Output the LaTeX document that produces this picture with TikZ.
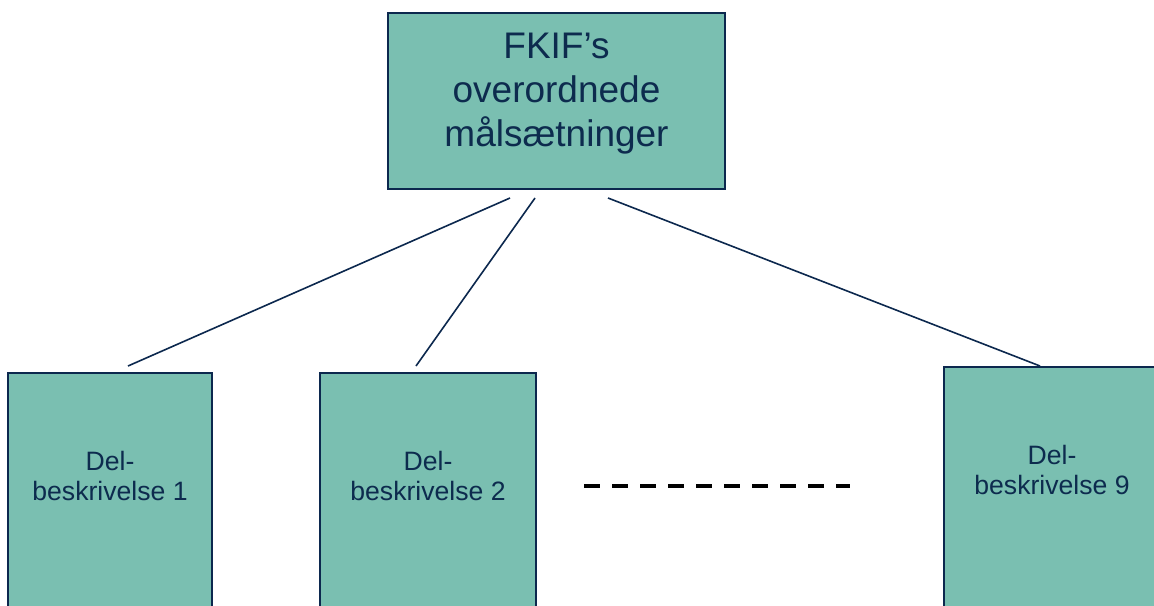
\documentclass[tikz,border=0pt]{standalone}
\usepackage{fontspec}
\setmainfont{Liberation Sans}
\definecolor{boxfill}{RGB}{122,191,177}
\definecolor{boxline}{RGB}{12,40,78}
\definecolor{inktext}{RGB}{13,43,78}
\begin{document}
\begin{tikzpicture}[x=0.5pt,y=-0.5pt,
    goalbox/.style={draw=boxline,line width=1pt,fill=boxfill,minimum width=168.5pt,
      minimum height=88pt,inner sep=0pt},
    goaltext/.style={align=center,text=inktext,font=\fontsize{18.5}{22}\selectfont},
    partbox/.style={draw=boxline,line width=1pt,fill=boxfill,minimum width=108pt,
      minimum height=130pt,anchor=north,inner sep=0pt},
    parttext/.style={align=center,text=inktext,font=\fontsize{13.3}{14.8}\selectfont},
    link/.style={draw=boxline,line width=0.8pt}]
    % Picture frame
    \clip (0,0) rectangle (1154,605);
    \fill[white] (0,0) rectangle (1154,605);

    % Overall goals
    \node[goalbox] (goal) at (556.5,101) {};
    \node[goaltext] (goaltxt) at (556.5,94) {FKIF’s\\overordnede\\målsætninger};

    % Sub-descriptions
    \node[partbox,minimum width=102pt] (part1) at (110,372) {};
    \node[parttext] (text1) at (110,476) {Del-\\beskrivelse 1};
    \node[partbox] (part2) at (428,372) {};
    \node[parttext] (text2) at (428,476) {Del-\\beskrivelse 2};
    \node[partbox] (part9) at (1052,366) {};
    \node[parttext] (text9) at (1052,470) {Del-\\beskrivelse 9};

    % Connector ends
    \coordinate (g1) at (510,198);
    \coordinate (g2) at (535,198);
    \coordinate (g9) at (608,198);
    \coordinate (p1) at (128,366);
    \coordinate (p2) at (416,366);
    \coordinate (p9) at (1040,366);
    \draw[link] (g1) -- (p1);
    \draw[link] (g2) -- (p2);
    \draw[link] (g9) -- (p9);

    % Boxes 3 to 8 left out
    \coordinate (gapL) at (584,486);
    \coordinate (gapR) at (850,486);
    \draw[black,line width=2pt,dash pattern=on 8pt off 6pt] (gapL) -- (gapR);
\end{tikzpicture}
\end{document}
